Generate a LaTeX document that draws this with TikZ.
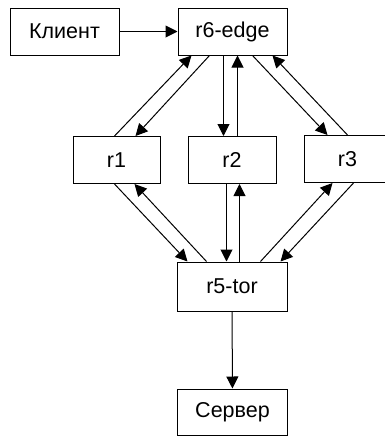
\documentclass[tikz,border=0pt]{standalone}
\usepackage{fontspec}
\setmainfont{Liberation Sans}
\usetikzlibrary{calc,arrows.meta}
\begin{document}
\begin{tikzpicture}[x=1pt,y=-1pt,
  box/.style={draw,line width=1pt,minimum height=47pt,inner sep=0pt,font=\fontsize{21.5}{25}\selectfont},
  conn/.style={line width=1pt,-{Triangle[length=12pt,width=12pt]}}]
\useasboundingbox (0,0) rectangle (385,437);
\node[box,minimum width=109pt] (klient) at (64.5,31.5) {Клиент};
\node[box,minimum width=109pt] (r6) at (232.5,31.5) {r6-edge};
\node[box,minimum width=87pt] (r1) at (116.5,160) {r1};
\node[box,minimum width=88pt] (r2) at (232,160) {r2};
\node[box,minimum width=87pt] (r3) at (347.5,159) {r3};
\node[box,minimum width=110pt,minimum height=49pt] (r5) at (232,286.5) {r5-tor};
\node[box,minimum width=110pt,minimum height=46pt] (srv) at (232.5,412) {Сервер};
% client -> r6
\draw[conn] (klient) -- (r6);
% r6 <-> r1
\draw[conn] ($(r1.north west)+(42,0)$) -- ($(r6.south west)+(14,0)$);
\draw[conn] ($(r6.south west)+(32,0)$) -- ($(r1.north west)+(63,0)$);
% r6 <-> r2
\coordinate (a) at ($(r6.south west)+(46,0)$);
\coordinate (b) at ($(r6.south west)+(60,0)$);
\draw[conn] (a) -- (a |- r2.north);
\draw[conn] (b |- r2.north) -- (b);
% r6 <-> r3
\draw[conn] ($(r6.south west)+(75,0)$) -- ($(r3.north west)+(24,0)$);
\draw[conn] ($(r3.north west)+(44,0)$) -- ($(r6.south west)+(95,0)$);
% r1 <-> r5
\draw[conn] ($(r1.south west)+(42,0)$) -- ($(r5.north west)+(11,0)$);
\draw[conn] ($(r5.north west)+(30,0)$) -- ($(r1.south west)+(62,0)$);
% r2 <-> r5
\coordinate (c) at ($(r5.north west)+(50,0)$);
\coordinate (d) at ($(r5.north west)+(63,0)$);
\draw[conn] (c |- r2.south) -- (c);
\draw[conn] (d) -- (d |- r2.south);
% r3 <-> r5
\draw[conn] ($(r5.north west)+(84,0)$) -- ($(r3.south west)+(29,0)$);
\draw[conn] ($(r3.south west)+(50,0)$) -- ($(r5.north west)+(104,0)$);
% r5 -> server
\draw[conn] (r5) -- (srv);
\end{tikzpicture}
\end{document}
